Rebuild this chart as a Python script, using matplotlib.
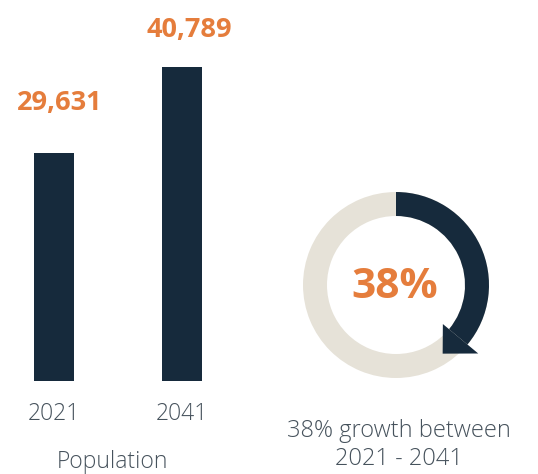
import numpy as np
import matplotlib
matplotlib.use("Agg")
import matplotlib.pyplot as plt
from matplotlib.patches import Wedge, Polygon

years = ["2021", "2041"]
population = [29631, 40789]
growth_pct = 38
xlabel_text = "Population"
growth_caption = "38% growth between\n2021 - 2041"

NAVY = "#162A3C"
ORANGE = "#E57D3C"
RING = "#E6E2D8"
GREY = "#46525C"

plt.rcParams['font.family'] = ['Open Sans', 'DejaVu Sans']

W, H = 538, 474
fig = plt.figure(figsize=(W/100, H/100), dpi=100)

# ---- bar chart axes (pixel-aligned) ----
base_px = 381
ax = fig.add_axes([0, (H - base_px)/H, 260/W, base_px/H])
units_per_px = max(population) / 314.0
ax.set_ylim(0, base_px * units_per_px)
spacing = 128.0
ax.set_xlim(-54/spacing, 1 + 78/spacing)
x = np.arange(len(years))
ax.bar(x, population, width=40/spacing, color=NAVY)
ax.set_xticks(x)
ax.set_xticklabels(years, fontsize=16.5, color=GREY, fontweight='light')
ax.tick_params(axis='x', length=0, pad=15)
ax.tick_params(axis='y', left=False, labelleft=False)
for s in ax.spines.values():
    s.set_visible(False)
ax.patch.set_alpha(0)
label_offsets = [(4, 36), (5, 27)]
for xi, v, off in zip(x, population, label_offsets):
    ax.annotate(f"{v:,}", (xi, v), xytext=off, textcoords='offset points',
                ha='center', va='center', fontsize=19.5, fontweight='bold', color=ORANGE)

fig.text(112/W, 1 - 462/H, xlabel_text, ha='center', va='center',
         fontsize=16.5, color=GREY, fontweight='light')

# ---- donut axes ----
cx, cy, half = 396, 285, 130
ax2 = fig.add_axes([(cx - half)/W, (H - cy - half)/H, 2*half/W, 2*half/H])
ax2.set_xlim(-half, half)
ax2.set_ylim(-half, half)
ax2.axis('off')
r_out, r_in = 93, 69
r_mid = (r_out + r_in) / 2
ax2.add_patch(Wedge((0, 0), r_out, 0, 360, width=r_out - r_in, color=RING, lw=0))
end_cw = growth_pct / 100 * 360
base_cw = end_cw - 7
tip_cw = end_cw + 9
t_base = 90 - base_cw
ax2.add_patch(Wedge((0, 0), r_out, t_base, 90, width=r_out - r_in, color=NAVY, lw=0))
def pt(r, cw):
    a = np.deg2rad(90 - cw)
    return (r*np.cos(a), r*np.sin(a))
head = [pt(r_mid - 20, base_cw), pt(r_mid + 26, base_cw), pt(r_mid + 2, tip_cw)]
ax2.add_patch(Polygon(head, closed=True, color=NAVY, lw=0))
ax2.text(-1, -2, f"{growth_pct}%", ha='center', va='center', fontsize=30.5,
         fontweight='bold', color=ORANGE)

fig.text(399/W, 1 - 445/H, growth_caption, ha='center', va='center',
         fontsize=17, color=GREY, fontweight='light', linespacing=1.2)

fig.savefig("out.png", dpi=100)
